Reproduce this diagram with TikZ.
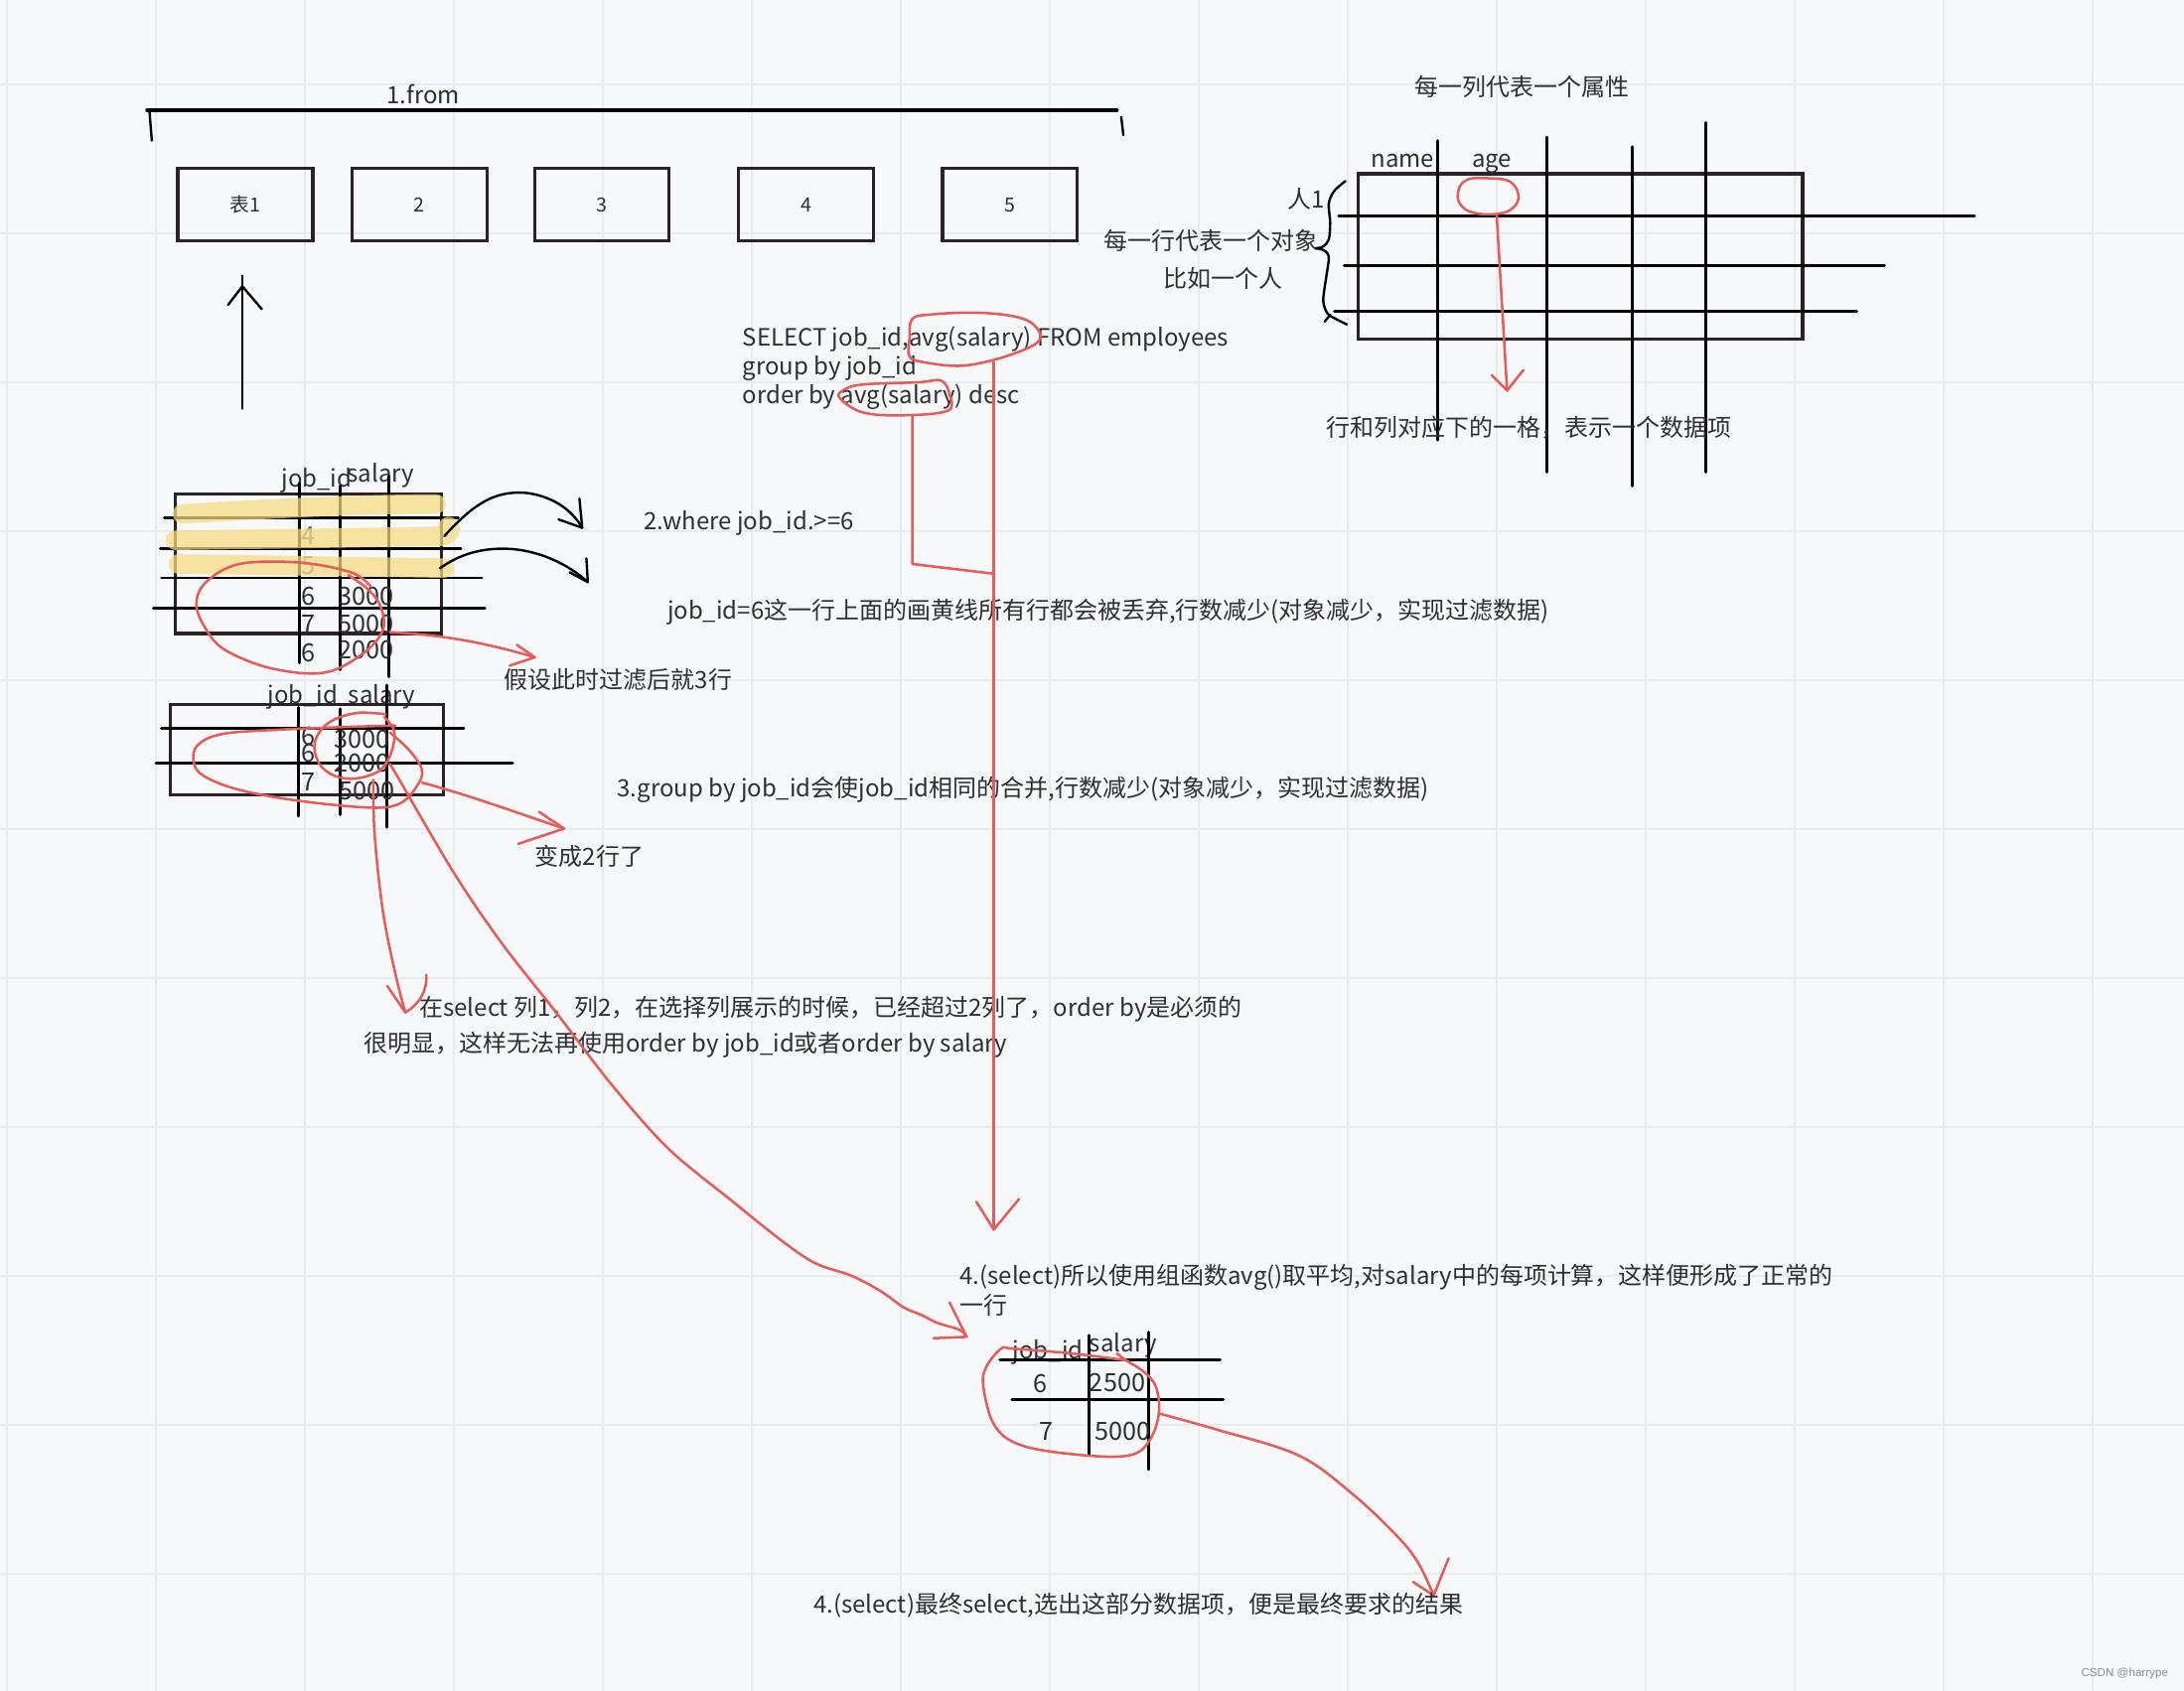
\documentclass[tikz,border=0pt]{standalone}
\usepackage{fontspec}
\setmainfont{Noto Sans CJK SC}
\newfontfamily\cjk{Noto Sans CJK SC}
\newfontfamily\wmfont{Liberation Sans}
\definecolor{bgc}{HTML}{F7F8FA}
\definecolor{gridc}{HTML}{E8EBEE}
\definecolor{txtc}{HTML}{2E2E33}
\definecolor{redc}{HTML}{E65C5A}
\definecolor{hlc}{HTML}{F7DC80}
\definecolor{boxc}{HTML}{2A2326}
\begin{document}
\begin{tikzpicture}[x=1pt,y=-1pt,
  gridl/.style={draw=gridc,line width=1.2pt},
  lbl/.style={font=\cjk\fontsize{17.1}{21}\selectfont,text=txtc,inner sep=0pt,anchor=west,text height=13pt,text depth=0pt},
  lblc/.style={lbl,anchor=center},
  numl/.style={font=\cjk\fontsize{18}{21}\selectfont,text=txtc,inner sep=0pt,anchor=west,text height=12.5pt,text depth=0pt},
  boxt/.style={font=\cjk\fontsize{14}{17}\selectfont,text=txtc,inner sep=0pt,anchor=center,text height=10pt,text depth=0pt},
  tbox/.style={draw=boxc,line width=2.3pt},
  blk/.style={draw=black,line width=2.1pt,line cap=round,line join=round},
  thin/.style={draw=black,line width=1.7pt,line cap=round,line join=round},
  redl/.style={draw=redc,line width=1.8pt,line cap=round,line join=round},
  hl/.style={draw=hlc,line width=14pt,line cap=round,opacity=0.72}
]
\useasboundingbox (0,0) rectangle (1568,1214);
\fill[bgc] (0,0) rectangle (1568,1214);
\foreach \i in {0,...,14} {\draw[gridl] ({4.99+106.96*\i},0) -- ({4.99+106.96*\i},1214);}
\foreach \i in {0,...,10} {\draw[gridl] (0,{60.6+106.96*\i}) -- (1568,{60.6+106.96*\i});}

% ---------- 1.from ----------
\node[lblc] (from) at (304,68) {1.from};
\coordinate (brL) at (105.5,79.2);
\coordinate (brR) at (802,79.2);
\draw[blk,line width=2.4pt] (brL) -- (brR);
\draw[thin] (107.3,79.6) -- (109,101);
\draw[thin] (805,84) -- (806.5,97);
\foreach \n/\xa/\xb/\t in {t1/127.7/224.6/表1,t2/252.8/349.6/2,t3/383.8/480.2/3,t4/530.2/627/4,t5/676.6/773.5/5}{
  \draw[tbox] (\xa,120.7) rectangle (\xb,173);
  \node[boxt] (\n) at ({(\xa+\xb)/2},147) {\t};
}
\coordinate (upB) at (174,293.5);
\coordinate (upT) at (174,198);
\draw[thin] (upB) -- (upT);
\draw[thin] (163.7,219) -- (174,205.6) -- (188,222);

% ---------- table 1 (where) ----------
\node[lbl] (h1a) at (202,343) {job\_id};
\node[lbl] (h1b) at (249,340) {salary};
\draw[tbox] (126,355) rectangle (317,455);
\draw[blk] (215,347) -- (215,476);
\draw[blk] (244,349) -- (244,481);
\draw[blk] (279,342) -- (279,486);
\draw[blk] (118,372) -- (329,372);
\draw[blk] (115,394) -- (331,394);
\draw[blk] (116,415) -- (346,415);
\draw[blk] (110,436.5) -- (348,436.5);
\node[numl,text=txtc!70] (c4) at (216.5,385) {4};
\node[numl,text=txtc!70] (c5) at (216.5,406) {5};
\node[numl] (c6a) at (216.5,428) {6};
\node[numl] (c7) at (216.5,448) {7};
\node[numl] (c6b) at (216.5,469) {6};
\node[numl] (s3) at (242.5,428) {3000};
\node[numl] (s5) at (242.5,448) {5000};
\node[numl] (s2) at (242.5,467) {2000};
\draw[hl] (131,369) .. controls (200,365) and (260,362) .. (313,362);
\draw[hl] (126,388) .. controls (200,387) and (270,386) .. (318,385) .. controls (323,384) and (324,380) .. (322,378);
\draw[hl] (128,405) .. controls (200,406) and (260,407) .. (319,408);
% black curved arrows
\coordinate (a1s) at (319,385); \coordinate (a1e) at (418,379);
\draw[thin] (a1s) .. controls (340,362) and (355,352) .. (378,354) .. controls (395,356) and (410,365) .. (a1e);
\draw[thin] (401,373) -- (a1e) -- (416,358);
\coordinate (a2s) at (316,408); \coordinate (a2e) at (422,418);
\draw[thin] (a2s) .. controls (330,398) and (345,394) .. (361,394) .. controls (385,394) and (408,405) .. (a2e);
\draw[thin] (409,411) -- (a2e) -- (421,401);
% red loop table 1
\draw[redl] plot[smooth,tension=0.6] coordinates {(266,421) (252,411) (215,404) (172,405) (148,418) (141,434) (148,452) (162,467) (195,480) (233,483) (261,469) (275,452) (273,435) (264,423) (250,413)};
\coordinate (r1s) at (280,454); \coordinate (r1e) at (384,472);
\draw[redl] (r1s) .. controls (320,456) and (350,462) .. (r1e);
\draw[redl] (371,463) -- (r1e) -- (366,478);

% ---------- texts middle ----------
\node[lbl] (sql1) at (533,242) {SELECT job\_id,avg(salary) FROM employees};
\node[lbl] (sql2) at (533,263) {group by job\_id};
\node[lbl] (sql3) at (533,283) {order by avg(salary) desc};
\node[lbl] (where) at (462,374) {2.where job\_id.>=6};
\node[lbl] (wnote) at (479,438) {job\_id=6这一行上面的画黄线所有行都会被丢弃,行数减少(对象减少，实现过滤数据)};
\node[lbl] (f3) at (362,488) {假设此时过滤后就3行};

% ---------- table 2 (group by) ----------
\node[lbl] (h2a) at (192,499) {job\_id};
\node[lbl] (h2b) at (250,499) {salary};
\draw[tbox] (122.5,506) rectangle (318.5,571);
\draw[blk] (116,523) -- (333,523);
\draw[blk] (112,548) -- (368,548);
\draw[blk] (214.6,508) -- (214.6,586);
\draw[blk] (244.5,509) -- (244.5,585);
\draw[blk] (277.5,492) -- (277.5,594);
\node[numl] (g6a) at (216.5,529) {6};
\node[numl] (g6b) at (216.5,541) {6};
\node[numl] (g7) at (216.5,562) {7};
\node[numl] (g3) at (240,531) {3000};
\node[numl] (g2) at (240,548) {2000};
\node[numl] (g5) at (243,568) {5000};
\draw[redl] plot[smooth,tension=0.6] coordinates {(284,521) (250,522) (200,524) (160,527) (142,535) (139,547) (146,557) (171,567) (214,575) (266,580) (287,577) (299,565) (303,553) (294,539) (280,526)};
\draw[redl] plot[smooth,tension=0.6] coordinates {(277,513) (256,512) (236,519) (226,533) (229,548) (240,557) (256,559) (273,553) (281,540) (283,525) (276,515)};
\coordinate (r2s) at (303,562); \coordinate (r2e) at (405,595);
\draw[redl] (r2s) .. controls (340,572) and (375,585) .. (r2e);
\draw[redl] (387,583) -- (r2e) -- (372,606);
\node[lbl] (grp) at (443,566) {3.group by job\_id会使job\_id相同的合并,行数减少(对象减少，实现过滤数据)};
\node[lbl] (two) at (384,615) {变成2行了};
% line to hook
\coordinate (hk) at (291,727);
\draw[redl] plot[smooth,tension=0.6] coordinates {(268,560) (269,600) (275,655) (284,700) (hk)};
\draw[redl] (278,708) -- (hk);
\draw[redl] (hk) .. controls (300,722) and (307,712) .. (306,700);
\node[lbl] (sel1) at (301,723) {在select 列1，列2，在选择列展示的时候，已经超过2列了，order by是必须的};
\node[lbl] (sel2) at (261,749) {很明显，这样无法再使用order by job\_id或者order by salary};
% long red curve
\coordinate (lcE) at (694,960);
\draw[redl] plot[smooth,tension=0.55] coordinates {(280,549) (285,557) (326,627) (360,677) (400,728) (440,780) (480,825) (525,862) (560,890) (585,907) (611,916) (632,927) (649,939) (661,944) (673,950) (689,955) (lcE)};
\draw[redl] (681.7,935.3) -- (lcE) -- (670.3,961);

% ---------- SELECT red marks ----------
\draw[redl] plot[smooth cycle,tension=0.6] coordinates {(653,243) (655,229) (669,225.8) (700,224.5) (727,227) (742,233) (746,244.8) (723.4,255.5) (691.7,262.6) (664.3,260.3) (653,256)};
\draw[redl] plot[smooth cycle,tension=0.6] coordinates {(605,280.5) (618.8,276.2) (659.6,274.5) (675.7,273.3) (681.6,282.9) (680.3,295) (646,298.3) (618.8,296) (603,286)};
\coordinate (vT) at (713.5,260);
\coordinate (vB) at (713.5,883);
\draw[redl] (vT) -- (vB);
\draw[redl] (701,863) -- (vB) -- (731.6,861);
\coordinate (oT) at (655,298.5);
\coordinate (oJ) at (713.5,412);
\draw[redl] (oT) -- (655,405) -- (oJ);

% ---------- bottom table ----------
\node[lbl] (sum1) at (689,916) {4.(select)所以使用组函数avg()取平均,对salary中的每项计算，这样便形成了正常的};
\node[lbl] (sum2) at (689,937) {一行};
\node[lbl] (h3a) at (727,969) {job\_id};
\node[lbl] (h3b) at (782,964) {salary};
\draw[blk] (718,976.2) -- (876,976.2);
\draw[blk] (726.5,1005) -- (878.2,1005);
\draw[blk] (782,959) -- (782,1044.7);
\draw[blk] (824.3,956.7) -- (824.3,1055.3);
\node[numl,anchor=center] (b6) at (746.6,994) {6};
\node[numl] (b25) at (782,993.4) {2500};
\node[numl,anchor=center] (b7) at (751,1028) {7};
\node[numl] (b50) at (786,1028) {5000};
\draw[redl] plot[smooth,tension=0.6] coordinates {(808.5,976.9) (770,972) (727.3,968.5) (718.8,968.5) (708.1,981.6) (706,995.9) (714.5,1024.4) (735.9,1038.7) (782.9,1045.4) (812.8,1044.6) (825.6,1033.9) (832,1014.9) (829.9,995.9) (821.3,985.2) (808.5,976.9) (802,972)};
\coordinate (btE) at (1029.3,1145.7);
\draw[redl] plot[smooth,tension=0.6] coordinates {(832,1015) (875,1027) (932,1045) (970,1072) (1002,1102) (1018,1122) (btE)};
\draw[redl] (1014.5,1136) -- (btE) -- (1040,1119);
\node[lbl] (final) at (584,1152) {4.(select)最终select,选出这部分数据项，便是最终要求的结果};

% ---------- right table ----------
\node[lblc] (attr) at (1093,62) {每一列代表一个属性};
\draw[tbox] (975.3,124.8) rectangle (1294.2,243.6);
\draw[blk] (1032,101) -- (1032,316);
\draw[blk] (1110.8,98.5) -- (1110.8,339);
\draw[blk] (1172,105.5) -- (1172,349);
\draw[blk] (1224.5,88) -- (1224.5,339);
\draw[blk] (961,154.8) -- (1417.6,154.8);
\draw[blk] (965,190.6) -- (1353,190.6);
\draw[blk] (958,223.3) -- (1333,223.3);
\node[lblc] (nm) at (1007,114) {name};
\node[lblc] (ag) at (1071,114) {age};
\node[lblc] (p1) at (938,143) {人1};
\node[lbl,anchor=east] (row) at (947,173) {每一行代表一个对象};
\node[lblc] (eg) at (878,200) {比如一个人};
\draw[thin] plot[smooth,tension=0.5] coordinates {(966,130) (958,137) (954,146) (955,160) (954,172) (950,177) (945,178.3)};
\draw[thin] plot[smooth,tension=0.5] coordinates {(945,178.3) (951,180) (954,185) (952,200) (950,216) (953,225) (959,229) (967,233)};
\draw[thin] (955,226) -- (951,231);
\draw[redl] plot[smooth cycle,tension=0.6] coordinates {(1048,134) (1055,128.5) (1068,128) (1082,129.5) (1089,136) (1089.5,145) (1082,152) (1068,154) (1054,151.5) (1047,144)};
\coordinate (cT) at (1074.5,154);
\coordinate (cB) at (1082,280.5);
\draw[redl] (cT) -- (cB);
\draw[redl] (1071,269.5) -- (cB) -- (1093.7,265.7);
\node[lbl] (cell) at (952,307) {行和列对应下的一格，表示一个数据项};

\node[font=\wmfont\fontsize{8.3}{10}\selectfont,text=black!45,inner sep=0pt,anchor=west] (wm) at (1494,1202) {CSDN @harrype};
\end{tikzpicture}
\end{document}
